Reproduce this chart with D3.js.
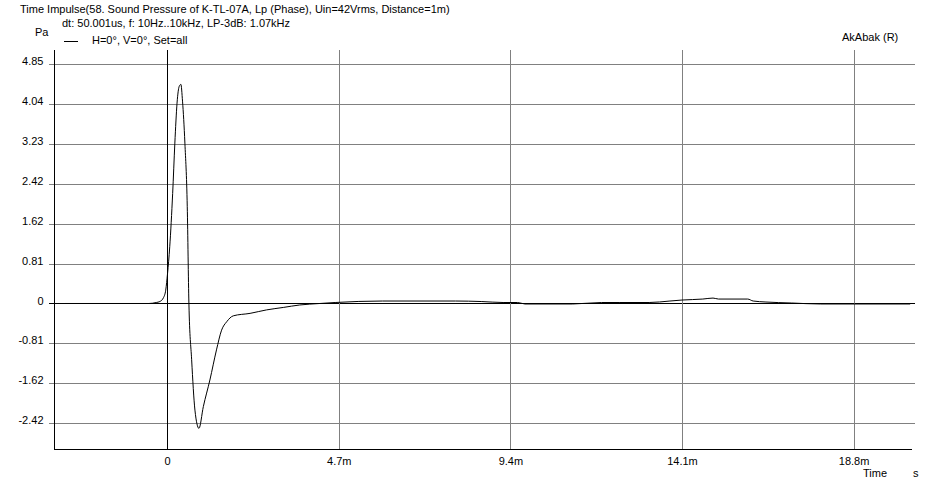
<!DOCTYPE html>
<html><head><meta charset="utf-8">
<script src="https://cdn.jsdelivr.net/npm/d3@7"></script>
<style>
html,body{margin:0;padding:0;background:#fff;}
svg{display:block;font-family:"Liberation Sans",Arial,sans-serif;font-size:11px;}
</style></head>
<body>
<svg id="chart" width="938" height="486"></svg>
<script>
// ---- data ----
const timeMs = [-2.8,-1.0,-0.5,-0.3,-0.2,-0.1,-0.04,0.01,0.07,0.15,0.21,0.27,0.33,0.375,0.42,0.485,0.55,0.595,0.67,0.76,0.87,0.99,1.17,1.35,1.49,1.63,1.81,2.27,2.72,3.18,3.63,4.18,4.6,5.9,7.9,8.6,9.2,9.6,9.8,11.1,11.9,12.4,13.2,13.77,14.1,14.67,14.95,15.1,15.9,16.05,16.4,17.1,17.9,20.35];
const pressurePa = [0,0,0,0.02,0.04,0.12,0.27,0.61,1.15,2.23,3.25,4.06,4.40,4.44,4.10,3.25,1.96,0,-1.14,-2.16,-2.53,-2.09,-1.55,-0.94,-0.54,-0.37,-0.25,-0.20,-0.13,-0.08,-0.03,0,0.02,0.05,0.05,0.04,0.02,0.02,-0.01,-0.01,0.02,0.02,0.02,0.05,0.07,0.09,0.11,0.09,0.09,0.05,0.03,0.01,-0.01,-0.01];
const yTickValues = [-2.425,-1.617,-0.808,0,0.808,1.617,2.425,3.233,4.042,4.85];
const yTickLabels = ["-2.42","-1.62","-0.81","0","0.81","1.62","2.42","3.23","4.04","4.85"];
const xTickValues = [0,4.7,9.4,14.1,18.8];
const xTickLabels = ["0","4.7m","9.4m","14.1m","18.8m"];
const titleText = "Time Impulse(58. Sound Pressure of K-TL-07A, Lp (Phase), Uin=42Vrms, Distance=1m)";
const infoText = "dt: 50.001us, f: 10Hz..10kHz, LP-3dB: 1.07kHz";
const legendText = "H=0°, V=0°, Set=all";

// ---- layout ----
const L=54, R=912, T=50, B=449;
const svg = d3.select("#chart");
const x = d3.scaleLinear().domain([-3.1,20.4]).range([L,R]);
const y = d3.scaleLinear().domain([-2.948,5.136]).range([B,T]);
const grid = "#808080";
const py = v => Math.round(y(v))+0.5;
const px = v => Math.round(x(v))+0.5;

// horizontal grid
svg.append("g").selectAll("line").data(yTickValues).join("line")
  .attr("x1",L-5).attr("x2",915).attr("y1",py).attr("y2",py)
  .attr("stroke",d=>d===0?"#000":grid).attr("shape-rendering","crispEdges");
// vertical grid
svg.append("g").selectAll("line").data(xTickValues).join("line")
  .attr("x1",px).attr("x2",px).attr("y1",T).attr("y2",B)
  .attr("stroke",d=>d===0?"#000":grid).attr("shape-rendering","crispEdges");

// y axis
const yAxis = d3.axisLeft(y).tickValues(yTickValues).tickSize(0).tickPadding(11)
  .tickFormat((d,i)=>yTickLabels[i]);
const gy = svg.append("g").attr("transform",`translate(${L+0.5},0)`).call(yAxis);
gy.select(".domain").attr("stroke","#000").attr("d",`M0,${T}V${B}`).attr("shape-rendering","crispEdges");
gy.selectAll("text").attr("dy","0.05em").attr("fill","#000")
  .style("font-family","'Liberation Sans',Arial,sans-serif").style("font-size","11px");

// x axis
const xAxis = d3.axisBottom(x).tickValues(xTickValues).tickSize(0).tickPadding(8)
  .tickFormat((d,i)=>xTickLabels[i]);
const gx = svg.append("g").attr("transform",`translate(0,${B+0.5})`).call(xAxis);
gx.select(".domain").attr("stroke","#000").attr("d",`M${L},0H${R}`).attr("shape-rendering","crispEdges");
gx.selectAll("text").attr("fill","#000")
  .style("font-family","'Liberation Sans',Arial,sans-serif").style("font-size","11px");

// curve
const pts = timeMs.map((t,i)=>[t,pressurePa[i]]);
svg.append("path").datum(pts)
  .attr("fill","none").attr("stroke","#000").attr("stroke-width",1)
  .attr("d", d3.line().x(d=>x(d[0])).y(d=>y(d[1])).curve(d3.curveMonotoneX));

// texts
svg.append("text").attr("x",20).attr("y",13).text(titleText);
svg.append("text").attr("x",62).attr("y",27).text(infoText);
svg.append("text").attr("x",35).attr("y",36).text("Pa");
svg.append("line").attr("x1",64).attr("x2",78).attr("y1",41.5).attr("y2",41.5).attr("stroke","#000");
svg.append("text").attr("x",92).attr("y",44).text(legendText);
svg.append("text").attr("x",842).attr("y",41).text("AkAbak (R)");
svg.append("text").attr("x",863).attr("y",477).text("Time");
svg.append("text").attr("x",913).attr("y",477).text("s");
</script>
</body></html>
